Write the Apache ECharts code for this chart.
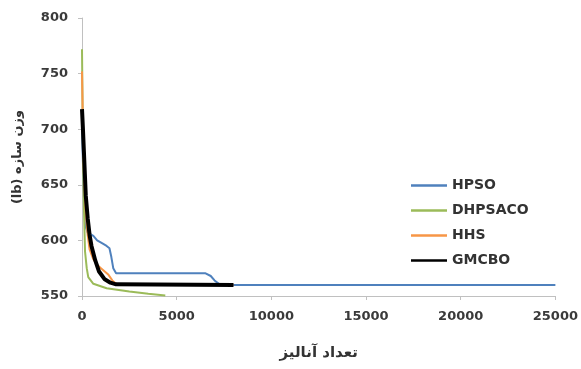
<!DOCTYPE html>
<html>
<head>
<meta charset="utf-8">
<script src="https://cdn.jsdelivr.net/npm/echarts@6/dist/echarts.min.js"></script>
<style>
html,body{margin:0;padding:0;background:#fff;}
#c{width:581px;height:369px;}
</style>
</head>
<body>
<div id="c"></div>
<script>
var xTicks = [0, 5000, 10000, 15000, 20000, 25000];
var yTicks = [550, 600, 650, 700, 750, 800];

var hpsoX = [0, 50, 100, 150, 200, 300, 600, 800, 1100, 1300, 1450, 1550, 1650, 1800, 6500, 6800, 7000, 7300, 25000];
var hpsoY = [701, 670, 645, 625, 612, 607, 604, 600, 597, 595, 593, 585, 575, 570.5, 570.5, 568, 564, 560, 560];

var dhpsacoX = [0, 30, 60, 100, 160, 250, 330, 600, 1300, 2500, 3500, 4400];
var dhpsacoY = [772, 720, 670, 630, 590, 575, 567, 561, 557, 554, 552, 550.5];

var hhsX = [0, 50, 100, 200, 300, 400, 600, 800, 1000, 1200, 1400, 1600, 1800, 2500, 8000];
var hhsY = [752, 700, 660, 625, 605, 592, 583, 578, 575, 572, 569, 564, 561, 560, 560];

var gmcboX = [0, 50, 100, 150, 200, 300, 400, 500, 700, 900, 1200, 1500, 1800, 8000];
var gmcboY = [718, 700, 680, 660, 640, 620, 605, 595, 582, 572, 565, 562, 560.5, 560];

var names = ['HPSO', 'DHPSACO', 'HHS', 'GMCBO'];
var colors = ['#4F81BD', '#9BBB59', '#F79646', '#000000'];
var widths = [2, 2, 2, 4];
var xs = [hpsoX, dhpsacoX, hhsX, gmcboX];
var ys = [hpsoY, dhpsacoY, hhsY, gmcboY];

function pairs(a, b) { return a.map(function (v, i) { return [v, b[i]]; }); }

var series = names.map(function (n, i) {
  return {
    name: n, type: 'line', data: pairs(xs[i], ys[i]),
    symbol: 'none', smooth: false,
    lineStyle: { color: colors[i], width: widths[i] },
    itemStyle: { color: colors[i] }
  };
});

var legendData = names.map(function (n, i) {
  return { name: n, icon: 'rect', itemStyle: { color: colors[i] } };
});

var labelFont = { fontFamily: 'DejaVu Sans', fontWeight: 'bold', fontSize: 13, color: '#3a3a3a' };
var chart = echarts.init(document.getElementById('c'), null, { renderer: 'canvas' });
chart.setOption({
  animation: false,
  backgroundColor: '#fff',
  grid: { left: 82, right: 24, top: 18, bottom: 73, containLabel: false },
  legend: {
    orient: 'vertical', left: 406, top: 172,
    itemWidth: 36, itemHeight: 2.5, itemGap: 8,
    textStyle: { fontFamily: 'DejaVu Sans', fontWeight: 'bold', fontSize: 14, color: '#333', lineHeight: 17 },
    data: legendData
  },
  xAxis: {
    type: 'value', min: xTicks[0], max: xTicks[xTicks.length - 1], interval: 5000,
    name: 'تعداد آنالیز', nameLocation: 'middle', nameGap: 50,
    nameTextStyle: { fontFamily: 'DejaVu Sans', fontWeight: 'bold', fontSize: 15, color: '#333' },
    axisLine: { lineStyle: { color: '#c0c0c0' } },
    axisTick: { show: true, length: 4, lineStyle: { color: '#c0c0c0' } },
    axisLabel: Object.assign({ margin: 14, formatter: function (v) { return String(v); } }, labelFont),
    splitLine: { show: false }
  },
  yAxis: {
    type: 'value', min: yTicks[0], max: yTicks[yTicks.length - 1], interval: 50,
    name: '\u202Bوزن سازه (lb)\u202C', nameLocation: 'middle', nameGap: 58,
    nameTextStyle: { fontFamily: 'DejaVu Sans', fontWeight: 'bold', fontSize: 13, color: '#333' },
    axisLine: { show: true, lineStyle: { color: '#c0c0c0' } },
    axisTick: { show: true, length: 4, lineStyle: { color: '#c0c0c0' } },
    axisLabel: Object.assign({ margin: 14, formatter: function (v) { return String(v); } }, labelFont),
    splitLine: { show: false }
  },
  series: series
});
</script>
</body>
</html>
